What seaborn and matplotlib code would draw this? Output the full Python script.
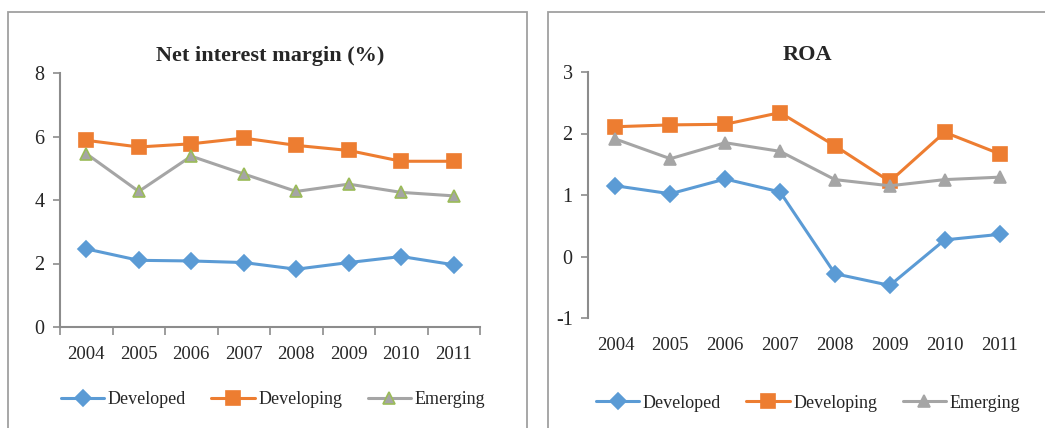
import matplotlib
matplotlib.use("Agg")
import matplotlib.pyplot as plt
from matplotlib.patches import Rectangle
import seaborn as sns
import pandas as pd

years = ["2004", "2005", "2006", "2007", "2008", "2009", "2010", "2011"]
groups = ["Developed", "Developing", "Emerging"]

# net interest margin (%)
nim_developed = [2.46, 2.10, 2.08, 2.03, 1.82, 2.03, 2.22, 1.96]
nim_developing = [5.88, 5.67, 5.77, 5.95, 5.72, 5.56, 5.22, 5.22]
nim_emerging = [5.46, 4.27, 5.38, 4.82, 4.27, 4.50, 4.24, 4.13]

# ROA
roa_developed = [1.15, 1.02, 1.26, 1.05, -0.28, -0.47, 0.27, 0.36]
roa_developing = [2.11, 2.14, 2.15, 2.34, 1.80, 1.22, 2.02, 1.67]
roa_emerging = [1.91, 1.59, 1.85, 1.71, 1.25, 1.15, 1.25, 1.29]

sns.set_style("white")
plt.rcParams["font.family"] = ["Liberation Serif", "DejaVu Serif"]

colors = {"Developed": "#5B9BD5", "Developing": "#ED7D31", "Emerging": "#A5A5A5"}
markers = {"Developed": "D", "Developing": "s", "Emerging": "^"}
msizes = {"Developed": 8, "Developing": 10, "Emerging": 9}
spine_col = "#8C8C8C"

fig = plt.figure(figsize=(10.45, 4.28), dpi=100)

# panel frames
fig.patches.append(Rectangle((8 / 1045, -0.1), 519 / 1045, 1.1 - 12 / 428,
                             transform=fig.transFigure, fill=False,
                             edgecolor="#A0A0A0", linewidth=1.3))
fig.patches.append(Rectangle((548 / 1045, -0.1), 0.6, 1.1 - 12 / 428,
                             transform=fig.transFigure, fill=False,
                             edgecolor="#A0A0A0", linewidth=1.3))

ax1 = fig.add_axes([60 / 1045, 1 - 327 / 428, 420 / 1045, 254 / 428])
ax2 = fig.add_axes([588 / 1045, 1 - 318 / 428, 439 / 1045, 246 / 428])

panels = [
    (ax1, "Net interest margin (%)", [nim_developed, nim_developing, nim_emerging],
     (0, 8), [0, 2, 4, 6, 8], {"Emerging": "#9BBB59"}),
    (ax2, "ROA", [roa_developed, roa_developing, roa_emerging],
     (-1, 3), [-1, 0, 1, 2, 3], {}),
]

for ax, title, series, ylim, yticks, edges in panels:
    for name, vals in zip(groups, series):
        df = pd.DataFrame({"x": range(len(years)), "y": vals})
        sns.lineplot(data=df, x="x", y="y", ax=ax, color=colors[name],
                     marker=markers[name], markersize=msizes[name],
                     markeredgecolor=edges.get(name, colors[name]),
                     markeredgewidth=1.2, linewidth=2.2, label=name)
    ax.set_xlim(-0.5, len(years) - 0.5)
    ax.set_ylim(*ylim)
    ax.set_yticks(yticks)
    ax.set_yticklabels([str(t) for t in yticks], fontsize=14.5)
    ax.set_xticks(range(len(years)))
    ax.set_xticklabels(years, fontsize=13.5)
    ax.set_xlabel("")
    ax.set_ylabel("")
    ax.set_title(title, fontsize=16, fontweight="bold", pad=9)
    for s in ["top", "right"]:
        ax.spines[s].set_visible(False)
    ax.spines["left"].set_color(spine_col)
    ax.spines["left"].set_linewidth(1.5)
    ax.tick_params(axis="y", direction="out", length=5, width=1.2,
                   color=spine_col, left=True, pad=6)
    ax.get_legend().remove()

# left panel: category axis with ticks between categories
ax1.spines["bottom"].set_color(spine_col)
ax1.spines["bottom"].set_linewidth(1.5)
ax1.set_xticks([i - 0.5 for i in range(len(years) + 1)], minor=True)
ax1.tick_params(axis="x", which="minor", direction="out", length=6, width=1.2,
                color=spine_col, bottom=True)
ax1.tick_params(axis="x", which="major", length=0, pad=14)

# right panel: no horizontal axis line
ax2.spines["bottom"].set_visible(False)
ax2.tick_params(axis="x", which="major", length=0, pad=14)

for ax, cx, cy in [(ax1, 273 / 1045, 1 - 400 / 428), (ax2, 808 / 1045, 1 - 403 / 428)]:
    h, l = ax.get_legend_handles_labels()
    fig.legend(h, l, loc="center", bbox_to_anchor=(cx, cy), ncol=3, frameon=False,
               fontsize=13, handlelength=2.4, columnspacing=1.4, handletextpad=0.2)

plt.savefig("out.png", dpi=100)
